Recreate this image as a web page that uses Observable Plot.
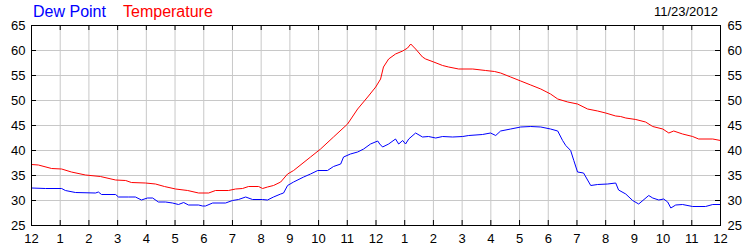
<!DOCTYPE html>
<html><head><meta charset="utf-8">
<script src="https://cdn.jsdelivr.net/npm/d3@7"></script>
<script src="https://cdn.jsdelivr.net/npm/@observablehq/plot@0.6"></script>
<style>
body{margin:0;background:#fff;}
#wrap{position:relative;width:750px;height:250px;font-family:"Liberation Sans",Arial,sans-serif;}
.leg{position:absolute;top:2px;font-size:16px;line-height:20px;white-space:nowrap;}
.date{position:absolute;top:4px;right:32px;font-size:13px;line-height:16px;color:#000;}
</style></head><body>
<div id="wrap">
  <div class="leg" style="left:33px;color:#0000ff">Dew Point</div>
  <div class="leg" style="left:123px;color:#ff0000">Temperature</div>
  <div class="date">11/23/2012</div>
</div>
<script>
const seriesNames = ["Dew Point", "Temperature"];
const dateLabel = "11/23/2012";
const hourTicks = [0,1,2,3,4,5,6,7,8,9,10,11,12,13,14,15,16,17,18,19,20,21,22,23,24];
const hourLabels = ["12","1","2","3","4","5","6","7","8","9","10","11","12","1","2","3","4","5","6","7","8","9","10","11","12"];
const valueTicks = [25,30,35,40,45,50,55,60,65];

const tempHours = [0,0.24,0.70,1.05,1.39,1.88,2.40,2.93,3.28,3.48,3.97,4.32,4.63,5.02,5.44,5.82,6.17,6.41,6.86,7.11,7.35,7.56,7.91,8.05,8.22,8.43,8.68,8.92,9.13,9.72,10.07,10.52,11.01,11.36,11.71,11.99,12.16,12.26,12.44,12.68,12.93,13.10,13.21,13.38,13.62,13.73,14.01,14.32,14.53,14.88,15.37,15.82,16.13,16.34,16.69,17.04,17.39,17.74,18.08,18.33,18.68,19.02,19.37,19.72,20.00,20.35,20.52,20.70,21.05,21.39,21.64,21.99,22.20,22.37,22.68,23.03,23.24,23.73,24.0];
const tempValues = [37.2,37.1,36.4,36.3,35.7,35.1,34.8,34.1,34.0,33.6,33.5,33.3,32.8,32.3,32.0,31.5,31.5,32.0,32.0,32.3,32.4,32.8,32.8,32.4,32.7,33.0,33.7,35.3,36.0,38.7,40.3,42.7,45.3,48.3,50.7,52.7,54.3,56.7,58.3,59.3,59.9,60.5,61.3,60.3,58.7,58.3,57.7,57.0,56.7,56.3,56.3,56.0,55.8,55.5,54.7,53.9,53.1,52.3,51.3,50.3,49.7,49.3,48.3,47.9,47.5,46.9,46.8,46.5,46.2,45.7,44.8,44.3,43.5,43.9,43.3,42.8,42.3,42.3,42.0];

const dewHours = [0,0.49,1.05,1.18,1.53,2.23,2.33,2.44,2.93,3.03,3.38,3.62,3.83,4.04,4.22,4.42,4.67,4.91,5.12,5.30,5.47,5.82,5.96,6.06,6.31,6.76,7.00,7.21,7.46,7.70,8.05,8.22,8.43,8.68,8.78,8.92,9.13,9.48,9.72,9.97,10.31,10.52,10.77,10.87,11.11,11.36,11.57,11.81,12.06,12.13,12.23,12.44,12.68,12.79,12.93,13.03,13.14,13.38,13.62,13.83,14.08,14.32,14.67,15.02,15.23,15.71,15.99,16.17,16.34,16.69,17.04,17.39,17.74,18.08,18.33,18.50,18.61,18.78,18.89,19.02,19.23,19.48,19.72,20.07,20.35,20.45,20.70,20.94,21.15,21.50,21.64,21.85,22.02,22.16,22.27,22.44,22.68,23.03,23.48,23.73,24.0];
const dewValues = [32.5,32.4,32.4,32.0,31.6,31.5,31.7,31.2,31.2,30.7,30.7,30.7,30.1,30.5,30.5,29.7,29.7,29.5,29.2,29.6,29.1,29.1,28.9,28.9,29.5,29.5,30.0,30.2,30.7,30.2,30.2,30.1,30.7,31.3,31.5,33.0,33.7,34.7,35.3,36.0,36.0,36.8,37.3,38.7,39.3,39.7,40.3,41.3,41.9,41.3,40.7,41.3,42.3,41.3,42.0,41.3,42.3,43.5,42.7,42.8,42.5,42.8,42.7,42.8,43.0,43.2,43.5,43.0,43.9,44.3,44.7,44.8,44.7,44.3,43.9,42.0,41.0,40.0,38.0,35.7,35.5,33.0,33.2,33.3,33.5,32.1,31.3,30.0,29.3,31.0,30.5,30.1,30.3,29.7,28.5,29.1,29.2,28.8,28.8,29.2,29.2];

const temp = tempHours.map((h, i) => ({h, v: tempValues[i]}));
const dew = dewHours.map((h, i) => ({h, v: dewValues[i]}));

const W = 750, H = 250, mL = 31, mR = 30, mT = 25, mB = 25;
const pw = W - mL - mR, ph = H - mT - mB;

const chart = Plot.plot({
  width: W, height: H,
  marginLeft: mL, marginRight: mR, marginTop: mT, marginBottom: mB,
  style: {fontFamily: '"Liberation Sans", Arial, sans-serif', fontSize: "13px", color: "#000", background: "transparent", overflow: "visible"},
  x: {domain: [0, 24], label: null},
  y: {domain: [25, 65], label: null},
  marks: [
    Plot.gridX(hourTicks, {stroke: "#c8c8c8", strokeOpacity: 1}),
    Plot.gridY(valueTicks, {stroke: "#c8c8c8", strokeOpacity: 1}),
    Plot.line(dew, {x: "h", y: "v", stroke: "#0000ff", strokeWidth: 1}),
    Plot.line(temp, {x: "h", y: "v", stroke: "#ff0000", strokeWidth: 1}),
    Plot.frame({stroke: "#000"}),
    Plot.tickY(valueTicks, {y: d => d, stroke: "#000", insetRight: pw - 5}),
    Plot.tickY(valueTicks, {y: d => d, stroke: "#000", insetLeft: pw - 5}),
    Plot.tickX(hourTicks, {x: d => d, stroke: "#000", insetBottom: ph - 5}),
    Plot.tickX(hourTicks, {x: d => d, stroke: "#000", insetTop: ph - 5}),
    Plot.axisY(valueTicks, {anchor: "left", tickSize: 0, tickPadding: 6, label: null, fill: "#000"}),
    Plot.axisY(valueTicks, {anchor: "right", tickSize: 0, tickPadding: 7, label: null, fill: "#000"}),
    Plot.axisX(hourTicks, {anchor: "bottom", tickSize: 0, tickPadding: 8, label: null, fill: "#000",
      tickFormat: d => hourLabels[hourTicks.indexOf(d)]})
  ]
});
chart.style.position = "absolute";
chart.style.left = "0";
chart.style.top = "0";
document.getElementById("wrap").prepend(chart);
</script>
</body></html>
